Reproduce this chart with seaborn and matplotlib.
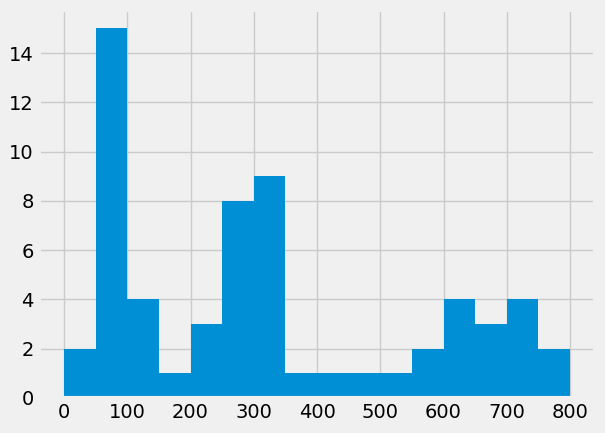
import numpy as np
import pandas as pd
import seaborn as sns
import matplotlib.pyplot as plt

# bin edges and counts
bin_edges = [0, 50, 100, 150, 200, 250, 300, 350, 400, 450, 500, 550, 600, 650, 700, 750, 800]
counts = [2, 15, 4, 1, 3, 8, 9, 1, 1, 1, 1, 2, 4, 3, 4, 2]

plt.style.use('fivethirtyeight')

centers = [(a + b) / 2 for a, b in zip(bin_edges[:-1], bin_edges[1:])]
df = pd.DataFrame({"value": centers, "count": counts})

fig, ax = plt.subplots(figsize=(6.05, 4.33), dpi=100)
sns.histplot(data=df, x="value", weights="count", bins=bin_edges,
             color="#008fd5", alpha=1, edgecolor="none", linewidth=0, ax=ax)
ax.set_xlabel("")
ax.set_ylabel("")
ax.set_xticks(range(0, 801, 100))
ax.set_xlim(-40, 840)
ax.set_ylim(0, 15.75)
fig.subplots_adjust(left=0.064, right=0.984, bottom=0.081, top=0.977)
fig.savefig("out.png", dpi=100)
